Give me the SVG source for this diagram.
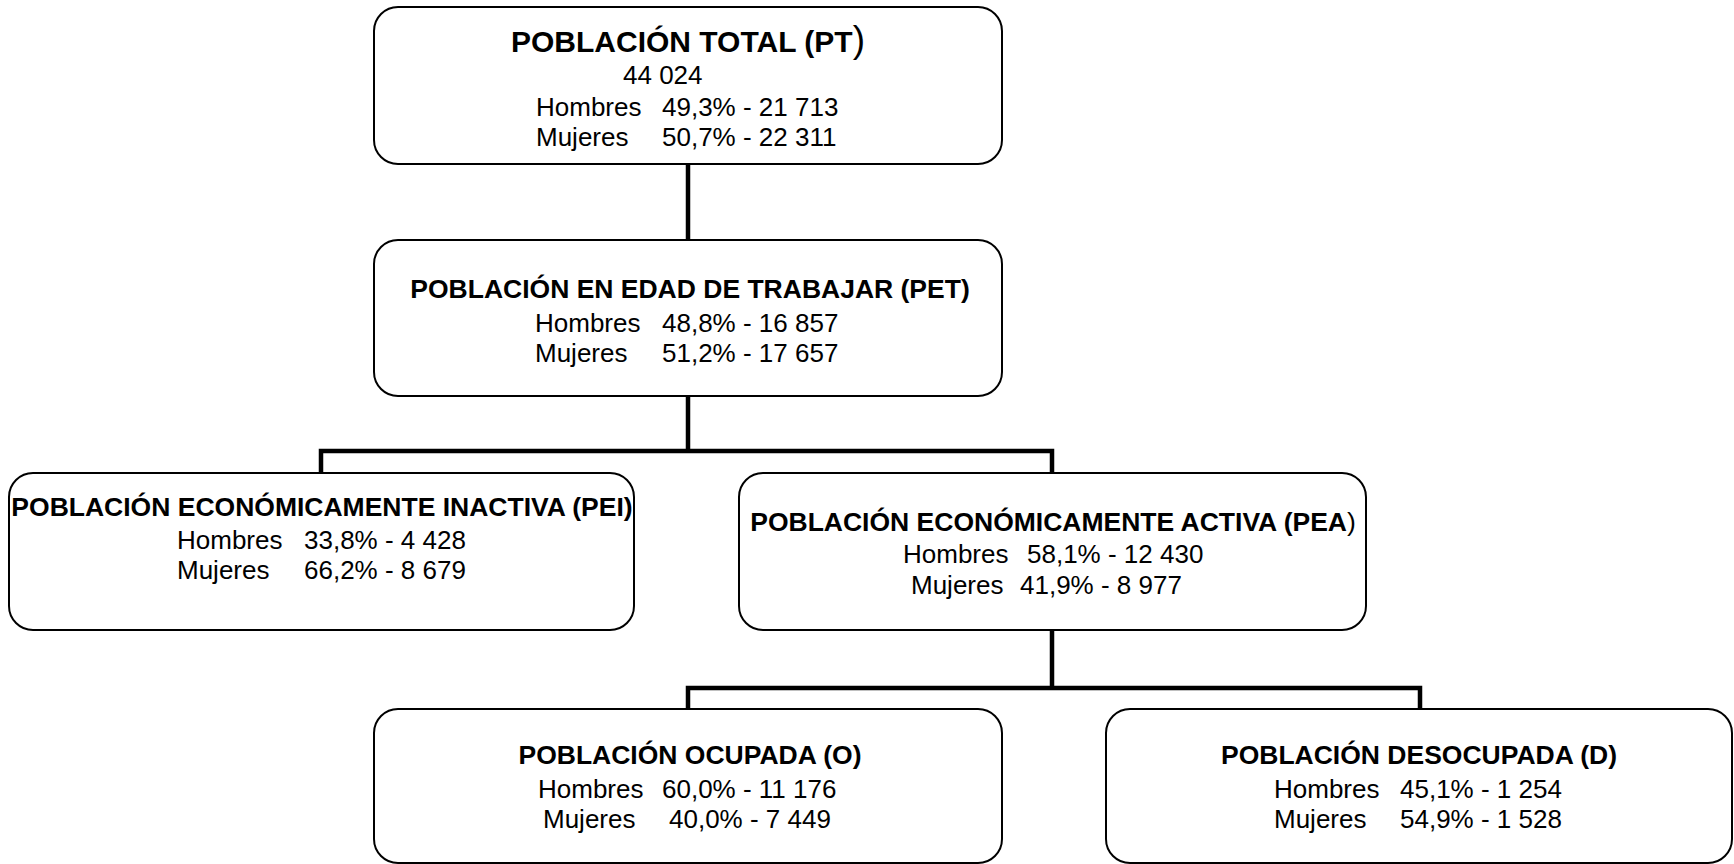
<svg xmlns="http://www.w3.org/2000/svg" width="1734" height="864" viewBox="0 0 1734 864">
<style>
.box{fill:#fff;stroke:#000;stroke-width:2}
.con{fill:none;stroke:#000;stroke-width:4.5;stroke-linecap:square}
.t{font-family:"Liberation Sans",Arial,sans-serif;font-weight:bold;font-size:26.5px;fill:#000;text-anchor:middle}
.r{font-family:"Liberation Sans",Arial,sans-serif;font-size:26px;fill:#000}
</style>
<rect width="1734" height="864" fill="#fff"/>
<g id="connectors">
<path class="con" d="M688,164 V240"/>
<path class="con" d="M688,396 V451 M321,473 V451 H1052 V473"/>
<path class="con" d="M1052,630 V688 M688,709 V688 H1420 V709"/>
</g>
<g id="pt">
<rect class="box" x="374" y="7" width="628" height="157" rx="24"/>
<text class="t" x="688" y="52" style="font-size:30px">POBLACIÓN TOTAL (PT<tspan style="font-size:37px;font-weight:normal">)</tspan></text>
<text class="r" x="623" y="84">44 024</text>
<text class="r" x="536" y="116">Hombres</text><text class="r" x="662" y="116">49,3% - 21 713</text>
<text class="r" x="536" y="146">Mujeres</text><text class="r" x="662" y="146">50,7% - 22 311</text>
</g>
<g id="pet">
<rect class="box" x="374" y="240" width="628" height="156" rx="24"/>
<text class="t" x="690" y="298">POBLACIÓN EN EDAD DE TRABAJAR (PET)</text>
<text class="r" x="535" y="332">Hombres</text><text class="r" x="662" y="332">48,8% - 16 857</text>
<text class="r" x="535" y="362">Mujeres</text><text class="r" x="662" y="362">51,2% - 17 657</text>
</g>
<g id="pei">
<rect class="box" x="9" y="473" width="625" height="157" rx="24"/>
<text class="t" x="322" y="516">POBLACIÓN ECONÓMICAMENTE INACTIVA (PEI)</text>
<text class="r" x="177" y="549">Hombres</text><text class="r" x="304" y="549">33,8% - 4 428</text>
<text class="r" x="177" y="579">Mujeres</text><text class="r" x="304" y="579">66,2% - 8 679</text>
</g>
<g id="pea">
<rect class="box" x="739" y="473" width="627" height="157" rx="24"/>
<text class="t" x="1053" y="531">POBLACIÓN ECONÓMICAMENTE ACTIVA (PEA<tspan style="font-weight:normal">)</tspan></text>
<text class="r" x="903" y="563">Hombres</text><text class="r" x="1027" y="563">58,1% - 12 430</text>
<text class="r" x="911" y="594">Mujeres</text><text class="r" x="1020" y="594">41,9%  - 8 977</text>
</g>
<g id="ocupada">
<rect class="box" x="374" y="709" width="628" height="154" rx="24"/>
<text class="t" x="690" y="764">POBLACIÓN OCUPADA (O)</text>
<text class="r" x="538" y="798">Hombres</text><text class="r" x="662" y="798">60,0% - 11 176</text>
<text class="r" x="543" y="828">Mujeres</text><text class="r" x="669" y="828">40,0% - 7 449</text>
</g>
<g id="desocupada">
<rect class="box" x="1106" y="709" width="626" height="154" rx="24"/>
<text class="t" x="1419" y="764">POBLACIÓN DESOCUPADA (D)</text>
<text class="r" x="1274" y="798">Hombres</text><text class="r" x="1400" y="798">45,1% - 1 254</text>
<text class="r" x="1274" y="828">Mujeres</text><text class="r" x="1400" y="828">54,9% - 1 528</text>
</g>
</svg>
